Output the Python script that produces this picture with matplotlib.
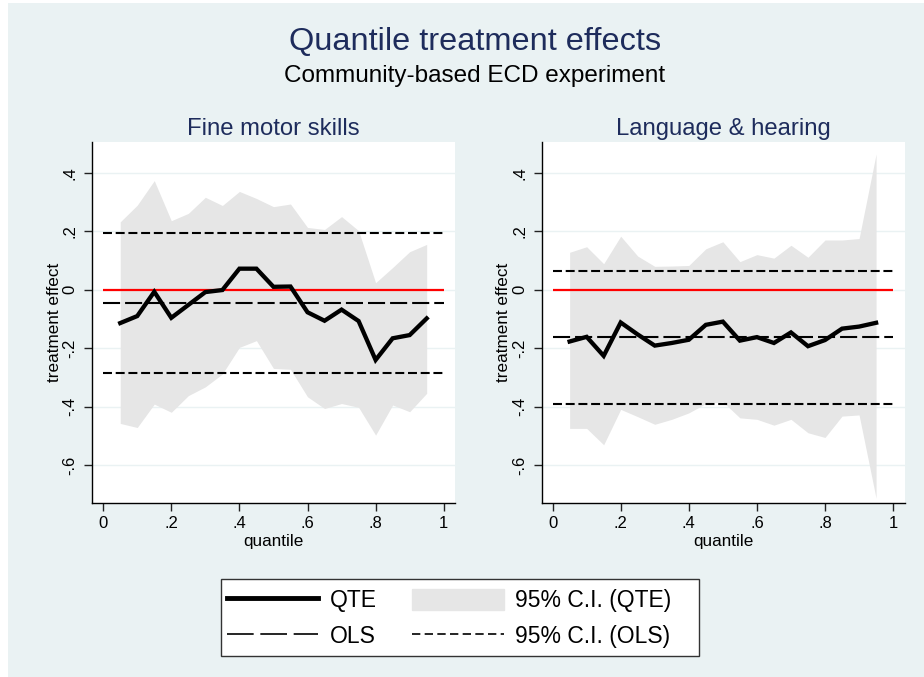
import matplotlib
matplotlib.use("Agg")
import matplotlib.pyplot as plt
from matplotlib.lines import Line2D
from matplotlib.patches import Patch, Rectangle

plt.rcParams["font.family"] = ["Liberation Sans", "DejaVu Sans"]

# ---------------------------------------------------------------------------
# data
# ---------------------------------------------------------------------------
quantiles = [0.05, 0.10, 0.15, 0.20, 0.25, 0.30, 0.35, 0.40, 0.45, 0.50,
             0.55, 0.60, 0.65, 0.70, 0.75, 0.80, 0.85, 0.90, 0.95]

# Fine motor skills
fine_qte = [-0.114, -0.090, -0.007, -0.096, -0.052, -0.008, -0.001, 0.072, 0.072, 0.010,
            0.011, -0.077, -0.106, -0.068, -0.107, -0.240, -0.166, -0.155, -0.098]
fine_hi = [0.232, 0.289, 0.373, 0.236, 0.261, 0.316, 0.288, 0.336, 0.312, 0.284,
           0.293, 0.213, 0.206, 0.250, 0.202, 0.024, 0.076, 0.130, 0.155]
fine_lo = [-0.457, -0.471, -0.391, -0.419, -0.362, -0.332, -0.288, -0.197, -0.174, -0.269,
           -0.272, -0.366, -0.406, -0.389, -0.402, -0.497, -0.394, -0.417, -0.354]
fine_ols = [-0.045, 0.193, -0.284]          # estimate, upper, lower

# Language & hearing
lang_qte = [-0.177, -0.161, -0.226, -0.112, -0.153, -0.191, -0.182, -0.171, -0.120, -0.109,
            -0.174, -0.162, -0.182, -0.146, -0.193, -0.172, -0.133, -0.126, -0.113]
lang_hi = [0.128, 0.147, 0.089, 0.183, 0.115, 0.080, 0.081, 0.083, 0.140, 0.164,
           0.096, 0.120, 0.108, 0.152, 0.111, 0.170, 0.170, 0.175, 0.464]
lang_lo = [-0.474, -0.474, -0.530, -0.409, -0.434, -0.460, -0.443, -0.421, -0.389, -0.383,
           -0.438, -0.443, -0.463, -0.443, -0.489, -0.505, -0.432, -0.428, -0.713]
lang_ols = [-0.163, 0.065, -0.391]

panels = [("Fine motor skills", fine_qte, fine_lo, fine_hi, fine_ols),
          ("Language & hearing", lang_qte, lang_lo, lang_hi, lang_ols)]

xticks = [0, 0.2, 0.4, 0.6, 0.8, 1]
xtick_labels = ["0", ".2", ".4", ".6", ".8", "1"]
yticks = [0.4, 0.2, 0, -0.2, -0.4, -0.6]
ytick_labels = [".4", ".2", "0", "-.2", "-.4", "-.6"]

# ---------------------------------------------------------------------------
# styling
# ---------------------------------------------------------------------------
BG = "#EAF2F3"
NAVY = "#1E2C5C"
FILL = "#E6E6E6"
OLS_DASH = (8.2, 2.4)
CI_DASH = (4.3, 1.8)
W, H = 924, 677

fig = plt.figure(figsize=(9.24, 6.77), dpi=100)
fig.patch.set_facecolor("white")
fig.add_artist(Rectangle((8 / W, 0), 1, 1 - 3 / H, transform=fig.transFigure,
                         facecolor=BG, edgecolor="none", zorder=-10))

fig.text(0.514, 1 - 49.5 / H, "Quantile treatment effects", ha="center", va="baseline",
         fontsize=23.4, color=NAVY)
fig.text(0.514, 1 - 82 / H, "Community-based ECD experiment", ha="center", va="baseline",
         fontsize=17.5, color="black")

lefts = [92.3 / W, 541.7 / W]
for left, (title, qte, lo, hi, ols) in zip(lefts, panels):
    ax = fig.add_axes([left, 1 - 502.7 / H, 363 / W, 360.4 / H])
    ax.set_facecolor("white")
    ax.set_axisbelow(True)

    ax.fill_between(quantiles, lo, hi, color=FILL, linewidth=0, zorder=1)
    ax.hlines(ols[1], 0, 1, color="black", linewidth=1.5, linestyles=[(0, CI_DASH)], zorder=2)
    ax.hlines(ols[2], 0, 1, color="black", linewidth=1.5, linestyles=[(0, CI_DASH)], zorder=2)
    ax.hlines(ols[0], 0, 1, color="black", linewidth=1.5, linestyles=[(0, OLS_DASH)], zorder=2)
    ax.hlines(0, 0, 1, color="#FF0000", linewidth=1.6, zorder=3)
    ax.plot(quantiles, qte, color="black", linewidth=3.1, solid_joinstyle="miter", zorder=4)

    ax.set_xlim(-0.032, 1.034)
    ax.set_ylim(-0.728, 0.504)
    ax.set_xticks(xticks)
    ax.set_xticklabels(xtick_labels)
    ax.set_yticks(yticks)
    ax.set_yticklabels(ytick_labels, rotation=90, va="center")
    ax.tick_params(axis="both", direction="out", length=5.5, width=1, color="#222222",
                   labelsize=12, labelcolor="black")
    ax.tick_params(axis="x", pad=4)
    ax.tick_params(axis="y", pad=5)
    ax.grid(axis="y", color=BG, linewidth=1)

    for side in ("top", "right"):
        ax.spines[side].set_visible(False)
    for side in ("left", "bottom"):
        ax.spines[side].set_color("black")
        ax.spines[side].set_linewidth(1)

    ax.set_xlabel("quantile", fontsize=12.3, va="center")
    ax.xaxis.set_label_coords(0.5, -0.108)
    ax.set_ylabel("treatment effect", fontsize=12.3, va="center")
    ax.yaxis.set_label_coords(-0.105, 0.5)

    fig.text(left + 363 / W / 2, 1 - 135 / H, title, ha="center", va="baseline",
             fontsize=17.2, color=NAVY)

# legend box drawn separately so its padding matches the Stata layout
fig.add_artist(Rectangle((220.7 / W, 1 - 655.7 / H), (699 - 220.7) / W, 76.4 / H,
                         transform=fig.transFigure, facecolor="white",
                         edgecolor="#333333", linewidth=1, zorder=5))

handles = [
    Line2D([], [], color="black", linewidth=3.5),
    Line2D([], [], color="black", linewidth=1.2, dashes=(16, 4)),
    Patch(facecolor=FILL, edgecolor=FILL),
    Line2D([], [], color="black", linewidth=1.2, dashes=(5, 2.6)),
]
labels = ["QTE", "OLS", "95% C.I. (QTE)", "95% C.I. (OLS)"]
leg = fig.legend(handles, labels, ncol=2, loc="center left",
                 bbox_to_anchor=(220.7 / W, 1 - 618.5 / H),
                 fontsize=16.5, frameon=False,
                 handlelength=4.0, handleheight=1.05, handletextpad=0.5,
                 columnspacing=1.55, labelspacing=0.55, borderpad=0.26,
                 borderaxespad=0)
leg.set_zorder(6)

fig.savefig("out.png", dpi=100, facecolor=fig.get_facecolor())
